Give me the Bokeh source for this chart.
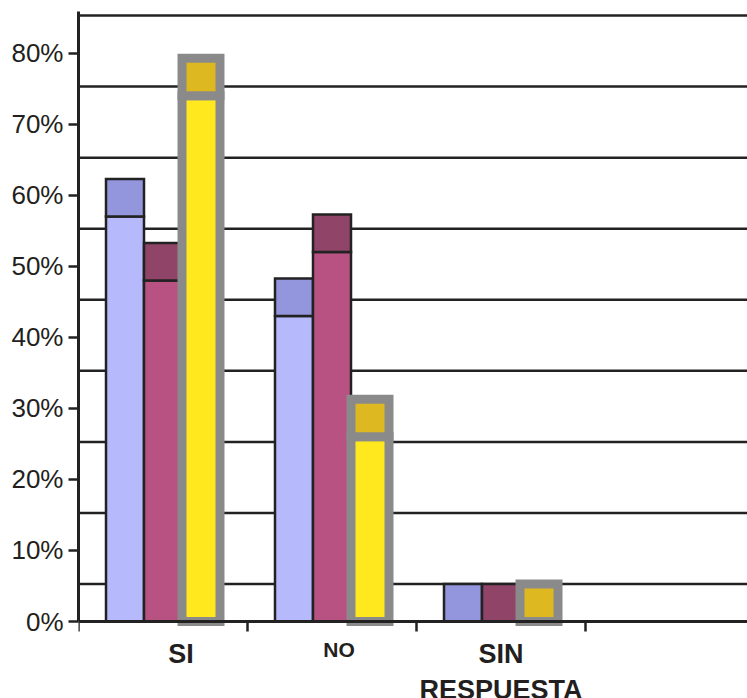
from bokeh.plotting import figure
from bokeh.models import Range1d, FixedTicker
from bokeh.core.properties import value
from bokeh.embed import file_html
from bokeh.resources import INLINE

# ---- data -------------------------------------------------------------
categories = ["SI", "NO", "SIN\nRESPUESTA"]
serie_1 = [57, 43, 0]
serie_2 = [48, 52, 0]
serie_3 = [74, 26, 0]
y_ticks = [0, 10, 20, 30, 40, 50, 60, 70, 80]
y_tick_labels = ["0%", "10%", "20%", "30%", "40%", "50%", "60%", "70%", "80%"]

# ---- styling ----------------------------------------------------------
W, H = 747, 698
BORDER_L, BORDER_T = 78, 11
AXIS_PX = 621                    # pixel row of the category axis
CAT_PX = 169                     # width of one category slot in pixels
PX_PER_UNIT = 7.106              # pixels per percentage point
Y_END = (AXIS_PX - BORDER_T) / PX_PER_UNIT
Y_START = -(H - AXIS_PX) / PX_PER_UNIT
X_END = (W - BORDER_L) / CAT_PX
DEPTH = 37.5 / PX_PER_UNIT       # apparent depth of the 3-D columns
BAR_W = 38 / CAT_PX

INK = "#231f20"
FONT = "Liberation Sans"

series_styles = [
    dict(front="#b7b9fd", top="#9395dd", line="#222222", lw=2.5),
    dict(front="#b85282", top="#904468", line="#222222", lw=2.5),
    dict(front="#ffe81e", top="#ddb820", line="#8a8a8a", lw=9),
]
label_sizes = ["27px", "21px", "27px"]
label_shift_px = [18, 7, 0]          # horizontal nudge of each category label
label_center_px = [32, 28, 32]       # text centre distance below the axis
LINE_STEP_PX = 36

p = figure(width=W, height=H, output_backend="svg", toolbar_location=None,
           x_range=Range1d(0, X_END), y_range=Range1d(Y_START, Y_END),
           min_border_left=BORDER_L, min_border_right=0,
           min_border_top=BORDER_T, min_border_bottom=0)
p.outline_line_color = None
p.grid.visible = False
p.background_fill_color = "white"

# back-wall gridlines (shifted up by the column depth)
grid_y = [v + DEPTH for v in y_ticks]
p.segment(x0=[0] * len(grid_y), x1=[X_END] * len(grid_y), y0=grid_y, y1=grid_y,
          line_color="#222222", line_width=2.5)

# 3-D columns: front face plus the visible top face
n = len(categories)
for i, (vals, st) in enumerate(zip([serie_1, serie_2, serie_3], series_styles)):
    centers = [k + 0.5 + (i - 1) * BAR_W for k in range(n)]
    left = [c - BAR_W / 2 for c in centers]
    right = [c + BAR_W / 2 for c in centers]
    p.quad(left=left, right=right, bottom=[0] * n, top=vals,
           fill_color=st["front"], line_color=st["line"], line_width=st["lw"],
           line_join="miter")
    p.quad(left=left, right=right, bottom=vals, top=[v + DEPTH for v in vals],
           fill_color=st["top"], line_color=st["line"], line_width=st["lw"],
           line_join="miter")

# y axis (line limited to the value range)
ya = p.yaxis[0]
ya.ticker = FixedTicker(ticks=y_ticks)
ya.bounds = (0, Y_END)
ya.major_label_overrides = {t: s for t, s in zip(y_ticks, y_tick_labels)}
ya.major_label_text_font = FONT
ya.major_label_text_font_size = "26px"
ya.major_label_text_color = INK
ya.major_label_standoff = 5
ya.axis_line_color = "#222222"
ya.axis_line_width = 3
ya.major_tick_line_color = "#222222"
ya.major_tick_line_width = 2.5
ya.major_tick_in = 0
ya.major_tick_out = 10
ya.minor_tick_line_color = None

# x axis pinned at zero: only the category boundary ticks (minor, unlabeled)
xa = p.xaxis[0]
xa.fixed_location = 0
xa.ticker = FixedTicker(ticks=[], minor_ticks=list(range(n + 2)))
xa.axis_line_color = "#222222"
xa.axis_line_width = 3
xa.minor_tick_line_color = "#222222"
xa.minor_tick_line_width = 2.5
xa.minor_tick_in = 0
xa.minor_tick_out = 10
xa.major_tick_line_color = None

# category names below the axis
for k, cat in enumerate(categories):
    lines = cat.split("\n")
    ys = [-(label_center_px[k] + j * LINE_STEP_PX) / PX_PER_UNIT
          for j in range(len(lines))]
    p.text(x=[k + 0.5] * len(lines), y=ys, text=lines,
           x_offset=label_shift_px[k],
           text_font=value(FONT), text_font_size=label_sizes[k],
           text_font_style="bold", text_color=INK,
           text_align="center", text_baseline="middle")

open("out.html", "w").write(file_html(p, INLINE))
